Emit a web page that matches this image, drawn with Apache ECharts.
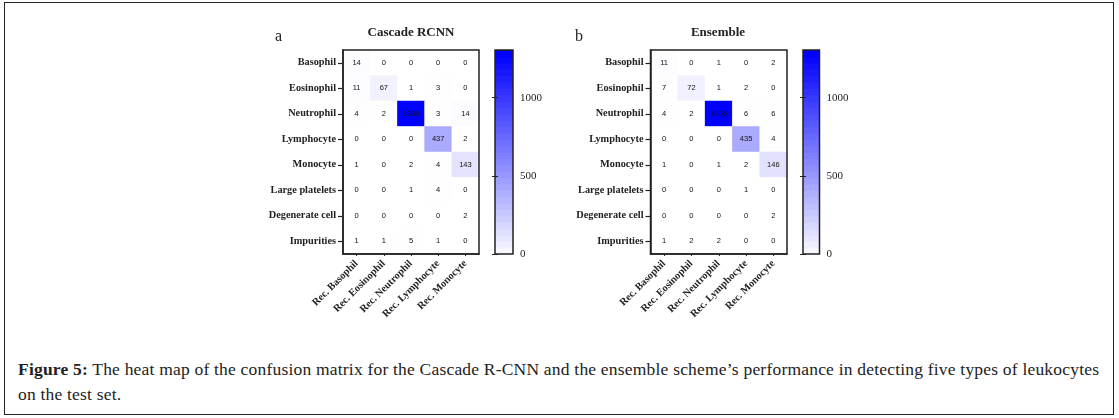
<!DOCTYPE html>
<html lang="en">

<head>
    <meta charset="UTF-8">
    <title>Figure 5</title>
    <script src="https://cdn.jsdelivr.net/npm/echarts@6/dist/echarts.min.js"></script>
    <style>
        html, body { margin: 0; padding: 0; background: #fff; }
        #frame { position: absolute; left: 4px; top: 2px; width: 1108px; height: 411px; border: 1px solid #222; }
        #main { position: absolute; left: 0; top: 0; width: 1119px; height: 345px; }
        #caption { position: absolute; left: 18px; top: 357px; width: 1090px; font: 17.5px/25px "Liberation Serif", serif; letter-spacing: 0.2px; color: #222; }
    </style>
</head>

<body>
    <div id="frame"></div>
    <div id="main"></div>
    <div id="caption"><b>Figure 5:</b> The heat map of the confusion matrix for the Cascade R-CNN and the ensemble scheme’s performance in detecting five types of leukocytes on the test set.</div>
</body>

</html>
<script type="text/javascript">
    var rows = ['Basophil', 'Eosinophil', 'Neutrophil', 'Lymphocyte', 'Monocyte', 'Large platelets', 'Degenerate cell', 'Impurities'];
    var cols = ['Rec. Basophil', 'Rec. Eosinophil', 'Rec. Neutrophil', 'Rec. Lymphocyte', 'Rec. Monocyte'];
    var matrixA = [
        [14, 0, 0, 0, 0],
        [11, 67, 1, 3, 0],
        [4, 2, 1300, 3, 14],
        [0, 0, 0, 437, 2],
        [1, 0, 2, 4, 143],
        [0, 0, 1, 4, 0],
        [0, 0, 0, 0, 2],
        [1, 1, 5, 1, 0]
    ];
    var matrixB = [
        [11, 0, 1, 0, 2],
        [7, 72, 1, 2, 0],
        [4, 2, 1305, 6, 6],
        [0, 0, 0, 435, 4],
        [1, 0, 1, 2, 146],
        [0, 0, 0, 1, 0],
        [0, 0, 0, 0, 2],
        [1, 2, 2, 0, 0]
    ];
    var maxVal = 1305;
    var serif = '"Liberation Serif", serif';
    var ink = '#222';

    function toCells(m) {
        var out = [];
        for (var r = 0; r < m.length; r++) {
            for (var c = 0; c < m[r].length; c++) {
                out.push([c, r, m[r][c]]);
            }
        }
        return out;
    }

    function cellColor(v) {
        var k = Math.round(255 * (1 - v / maxVal));
        return 'rgb(' + k + ',' + k + ',255)';
    }

    // colour bar steps, Prism draws it in bands
    var bands = [];
    var bandSize = maxVal / 32;
    for (var i = 0; i < 32; i++) {
        bands.push([i * bandSize, (i + 1) * bandSize]);
    }

    var panels = [
        { left: 343, width: 136, barLeft: 495, barWidth: 18, data: matrixA },
        { left: 650.5, width: 136.5, barLeft: 803, barWidth: 16.5, data: matrixB }
    ];

    var option = {
        animation: false,
        title: [
            { text: 'Cascade RCNN', left: 406, top: 21, textAlign: 'center', textStyle: { fontFamily: serif, fontSize: 13, fontWeight: 'bold', color: ink } },
            { text: 'Ensemble', left: 713, top: 21, textAlign: 'center', textStyle: { fontFamily: serif, fontSize: 13, fontWeight: 'bold', color: ink } },
            { text: 'a', left: 270, top: 24, textStyle: { fontFamily: serif, fontSize: 16, fontWeight: 'normal', color: ink } },
            { text: 'b', left: 570, top: 24, textStyle: { fontFamily: serif, fontSize: 16, fontWeight: 'normal', color: ink } }
        ],
        visualMap: { show: false, type: 'continuous', min: 0, max: maxVal, seriesIndex: [0, 2], inRange: { color: ['#ffffff', '#0000ff'] } },
        grid: [],
        xAxis: [],
        yAxis: [],
        series: []
    };

    panels.forEach(function(p) {
        var g = option.grid.length;
        var y = option.yAxis.length;
        // grids sit above the cells so the frame is not painted over
        option.grid.push({ left: p.left, top: 50, width: p.width, height: 204, show: true, z: 5, borderColor: ink, borderWidth: 1.5, backgroundColor: 'transparent' });
        option.grid.push({ left: p.barLeft, top: 50, width: p.barWidth, height: 204, show: true, z: 5, borderColor: ink, borderWidth: 1.5, backgroundColor: 'transparent' });

        option.xAxis.push({
            type: 'category', gridIndex: g, data: cols, z: 6,
            axisLine: { show: true, lineStyle: { color: ink, width: 1.5 } },
            axisTick: { show: true, alignWithLabel: true, length: 2, lineStyle: { color: ink, width: 1 } },
            axisLabel: { rotate: 45, interval: 0, margin: 8, fontFamily: serif, fontSize: 10.3, fontWeight: 'bold', color: ink }
        });
        option.yAxis.push({
            type: 'category', gridIndex: g, data: rows, inverse: true, z: 6,
            axisLine: { show: true, lineStyle: { color: ink, width: 1.5 } },
            axisTick: { show: true, alignWithLabel: true, length: 5, lineStyle: { color: ink, width: 1.2 } },
            axisLabel: { interval: 0, margin: 7, fontFamily: serif, fontSize: 10.3, fontWeight: 'bold', color: ink }
        });

        option.series.push({
            type: 'heatmap', xAxisIndex: g, yAxisIndex: y, z: 1,
            data: toCells(p.data),
            label: { show: true, fontFamily: '"Liberation Sans", sans-serif', fontSize: 7.5, color: '#111' },
            emphasis: { disabled: true }
        });

        // colour bar, drawn on its own value axis
        option.xAxis.push({ type: 'value', gridIndex: g + 1, min: 0, max: 1, show: false });
        option.yAxis.push({
            type: 'value', gridIndex: g + 1, min: 0, max: maxVal, interval: 500, position: 'right', z: 6,
            splitLine: { show: false },
            axisLine: { show: false },
            axisTick: { show: true, inside: true, length: 3, lineStyle: { color: ink, width: 1 } },
            axisLabel: {
                margin: 7, fontFamily: serif, fontSize: 11, color: ink, showMaxLabel: false,
                formatter: function(v) { return String(v); }
            }
        });
        option.yAxis.push({
            type: 'value', gridIndex: g + 1, min: 0, max: maxVal, interval: 500, position: 'left', z: 6,
            splitLine: { show: false },
            axisLine: { show: false },
            axisTick: { show: true, inside: true, length: 3, lineStyle: { color: ink, width: 1 } },
            axisLabel: { show: false }
        });
        option.series.push({
            type: 'custom', xAxisIndex: g + 1, yAxisIndex: y + 1, z: 1,
            data: bands,
            encode: { y: [0, 1] },
            renderItem: function(params, api) {
                var lo = api.coord([0, api.value(0)]);
                var hi = api.coord([1, api.value(1)]);
                return {
                    type: 'rect',
                    shape: { x: lo[0], y: hi[1], width: hi[0] - lo[0], height: lo[1] - hi[1] + 0.7 },
                    style: { fill: cellColor(api.value(1)) }
                };
            }
        });
    });

    var myChart = echarts.init(document.getElementById('main'));
    myChart.setOption(option);
</script>
